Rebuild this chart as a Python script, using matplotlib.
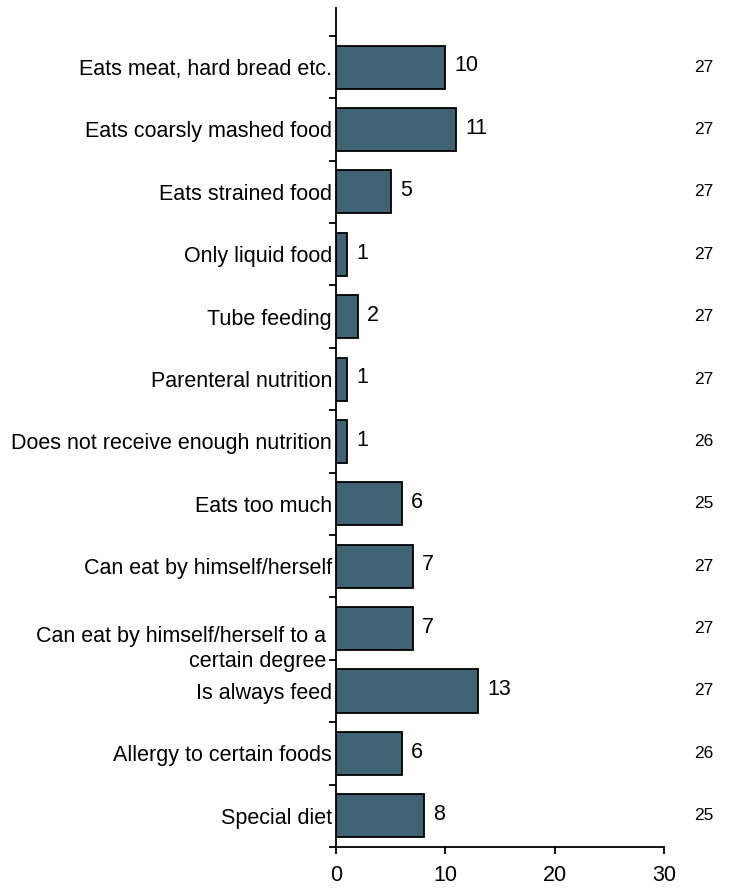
import numpy as np
import matplotlib.pyplot as plt
from matplotlib.transforms import blended_transform_factory

# categories listed top to bottom as in the chart
categories = [
    "Eats meat, hard bread etc.",
    "Eats coarsly mashed food",
    "Eats strained food",
    "Only liquid food",
    "Tube feeding",
    "Parenteral nutrition",
    "Does not receive enough nutrition",
    "Eats too much",
    "Can eat by himself/herself",
    "Can eat by himself/herself to a\ncertain degree",
    "Is always feed",
    "Allergy to certain foods",
    "Special diet",
]
counts = [10, 11, 5, 1, 2, 1, 1, 6, 7, 7, 13, 6, 8]
n_answers = [27, 27, 27, 27, 27, 27, 26, 25, 27, 27, 27, 26, 25]
xticks = [0, 10, 20, 30]

plt.rcParams['font.family'] = ['Liberation Sans', 'DejaVu Sans']

fig = plt.figure(figsize=(7.29, 8.88), dpi=100)
ax = fig.add_axes([0.461, 0.0462, 0.45, 0.945])

# bottom category at y=0
y = np.arange(len(categories))[::-1]
ax.barh(y, counts, height=0.69, color='#406374', edgecolor='black', linewidth=1.3)

for yi, c, n in zip(y, counts, n_answers):
    ax.text(c + 0.85, yi + 0.02, str(c), va='center', ha='left', fontsize=15.5)
    ax.text(33.6, yi, str(n), va='center', ha='center', fontsize=12.5, clip_on=False)

ax.set_xlim(0, 30)
ax.set_ylim(-0.5, 12.95)
ax.set_xticks(xticks)
ax.set_yticks(y)
# the two-line label sits lower than its bar in the original, draw it separately
labels = [lab if '\n' not in lab else '' for lab in categories]
ax.set_yticklabels(labels, fontsize=15.5, ha='right')
trans = blended_transform_factory(ax.transAxes, ax.transData)
for yi, lab in zip(y, categories):
    if '\n' in lab:
        ax.text(-0.03, yi - 0.33, lab, transform=trans, ha='right', va='center',
                multialignment='right', fontsize=15.5, linespacing=1.25)
ax.set_yticks(np.arange(-0.5, 12.6, 1.0), minor=True)
ax.tick_params(axis='y', which='major', length=0, pad=3)
ax.tick_params(axis='y', which='minor', length=5, width=1.3, direction='out')
ax.tick_params(axis='x', which='major', length=5, width=1.3, labelsize=15.5, pad=8)
ax.xaxis.set_ticks_position('bottom')

for side in ['top', 'right']:
    ax.spines[side].set_visible(False)
for side in ['left', 'bottom']:
    ax.spines[side].set_linewidth(1.3)

fig.savefig('out.png', dpi=100)
